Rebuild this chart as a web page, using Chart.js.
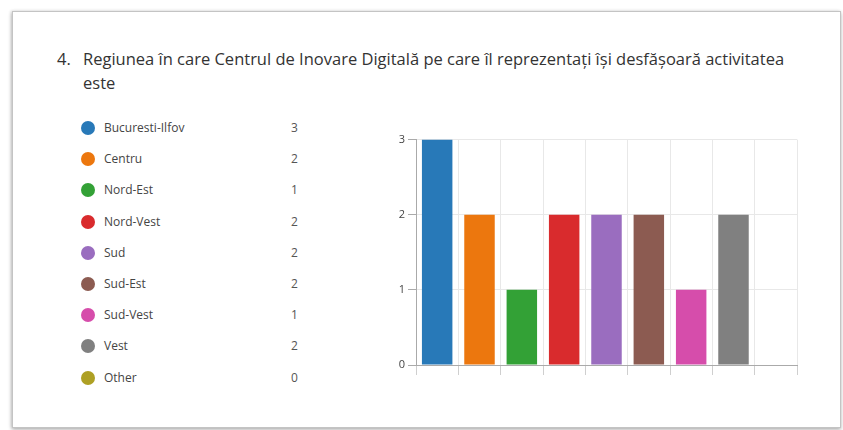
<!DOCTYPE html>
<html>
<head>
<meta charset="utf-8">
<script src="https://cdn.jsdelivr.net/npm/chart.js@4"></script>
<style>
    body { margin: 0; background: #fff; width: 843px; height: 430px; overflow: hidden; position: relative; font-family: "Open Sans", "Noto Sans", sans-serif; }
    .card { position: absolute; left: 12px; top: 11px; width: 827px; height: 415px; border: 1px solid #c4c4c4; box-shadow: 0 2px 4px rgba(0,0,0,0.25), -1px 0 3px rgba(0,0,0,0.15); background: #fff; }
    .title { position: absolute; left: 57px; top: 47px; width: 760px; font-size: 16.5px; line-height: 24px; color: #333; }
    .title .num { position: absolute; left: 0; top: 0; }
    .title .txt { margin-left: 26px; display: block; }
    .legend { position: absolute; left: 81px; top: 119px; }
    .row { position: relative; height: 31.2px; width: 230px; }
    .dot { position: absolute; left: 0; top: 2px; width: 14px; height: 14px; border-radius: 50%; }
    .lab { position: absolute; left: 23px; top: 0; font-size: 12px; color: #444; line-height: 18px; }
    .val { position: absolute; left: 210px; top: 0; font-size: 12px; color: #555; line-height: 18px; }
    #wrap { position: absolute; left: 380px; top: 130px; width: 420px; height: 250px; }
</style>
</head>
<body>
<div class="card"></div>
<div class="title"><span class="num">4.</span><span class="txt">Regiunea în care Centrul de Inovare Digitală pe care îl reprezentați își desfășoară activitatea este</span></div>
<div class="legend" id="legend"></div>
<div id="wrap"><canvas id="chart"></canvas></div>
<script>
// Chart data
const regions = ['Bucuresti-Ilfov', 'Centru', 'Nord-Est', 'Nord-Vest', 'Sud', 'Sud-Est', 'Sud-Vest', 'Vest', 'Other'];
const counts = [3, 2, 1, 2, 2, 2, 1, 2, 0];
const colors = ['#2879b8', '#ec770e', '#33a136', '#d92b2d', '#9a6dbf', '#8c5b51', '#d64dab', '#808080', '#aea024'];
const yTicks = [0, 1, 2, 3];

// Legend on the left
const legend = document.getElementById('legend');
regions.forEach((name, i) => {
    const row = document.createElement('div');
    row.className = 'row';
    row.innerHTML = '<span class="dot" style="background:' + colors[i] + '"></span>' +
        '<span class="lab">' + name + '</span><span class="val">' + counts[i] + '</span>';
    legend.appendChild(row);
});

new Chart(document.getElementById('chart'), {
    type: 'bar',
    data: {
        labels: regions,
        datasets: [{
            data: counts,
            backgroundColor: colors,
            borderWidth: 0,
            categoryPercentage: 0.9,
            barPercentage: 0.8
        }]
    },
    options: {
        responsive: true,
        maintainAspectRatio: false,
        animation: false,
        layout: { padding: { top: 9, right: 3, bottom: 5, left: 0 } },
        plugins: { legend: { display: false }, tooltip: { enabled: false } },
        scales: {
            x: {
                ticks: { display: false },
                grid: { color: '#e8e8e8', tickLength: 10, tickColor: '#cfcfcf', offset: true },
                border: { color: '#aaaaaa' }
            },
            y: {
                min: yTicks[0],
                max: yTicks[yTicks.length - 1],
                afterBuildTicks: scale => { scale.ticks = yTicks.map(v => ({ value: v })); },
                afterFit: scale => { scale.width = 36; },
                ticks: { color: '#444', font: { size: 11, family: '"Open Sans", sans-serif' }, padding: 3 },
                grid: { color: '#e8e8e8', tickLength: 8, tickColor: '#aaaaaa' },
                border: { color: '#aaaaaa' }
            }
        }
    }
});
</script>
</body>
</html>
